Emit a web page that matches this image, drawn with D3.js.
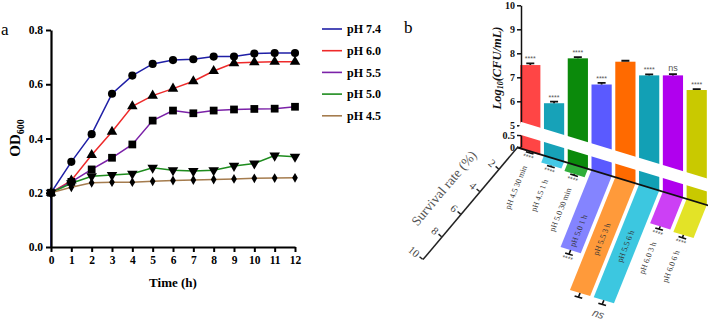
<!DOCTYPE html>
<html>
<head>
<meta charset="utf-8">
<script src="https://cdn.jsdelivr.net/npm/d3@7"></script>
<style>
  body { margin: 0; background: #fff; }
  svg { display: block; }
</style>
</head>
<body>
<svg id="chart" width="708" height="320"></svg>
<script>
// ---- panel a: growth curves ----
const times = [0, 1, 2, 3, 4, 5, 6, 7, 8, 9, 10, 11, 12];
const seriesNames = ["pH 7.4", "pH 6.0", "pH 5.5", "pH 5.0", "pH 4.5"];
const ph74 = [0.200, 0.314, 0.416, 0.565, 0.632, 0.675, 0.689, 0.692, 0.702, 0.702, 0.713, 0.715, 0.715];
const ph60 = [0.200, 0.245, 0.339, 0.425, 0.519, 0.558, 0.584, 0.611, 0.649, 0.678, 0.681, 0.683, 0.683];
const ph55 = [0.200, 0.240, 0.286, 0.329, 0.378, 0.466, 0.503, 0.493, 0.503, 0.507, 0.509, 0.510, 0.517];
const ph50 = [0.200, 0.235, 0.261, 0.265, 0.270, 0.292, 0.283, 0.280, 0.283, 0.299, 0.308, 0.337, 0.333];
const ph45 = [0.200, 0.220, 0.237, 0.239, 0.239, 0.242, 0.245, 0.247, 0.249, 0.251, 0.253, 0.254, 0.255];
const ph74Start = 0;   // blue trace starts from 0 at t = 0
const odTicks = [0, 0.2, 0.4, 0.6, 0.8];

// ---- panel b: log counts (top) and survival rate (bottom) ----
const bCats = ["pH 4.5 30 min", "pH 4.5 1 h", "pH 5.0 30 min", "pH 5.0 1 h",
               "pH 5.5 3 h", "pH 5.5 6 h", "pH 6.0 3 h", "pH 6.0 6 h"];
const logCfu = [7.51, 5.92, 7.79, 6.70, 7.65, 7.08, 7.08, 6.47];
const logCfuErr = [0.07, 0.07, 0.05, 0.07, 0.04, 0.04, 0.05, 0.04];
const logSig = ["****", "****", "****", "****", "", "****", "ns", "****"];
const survival = [0.05, 0.5, 0.6, 5.6, 8.2, 8.2, 2.3, 2.4];
const survivalErr = [0.05, 0.08, 0.08, 0.3, 0.3, 0.3, 0.2, 0.2];
const survSig = ["****", "****", "****", "****", "", "ns", "****", "****"];
const logTicksHi = [5, 6, 7, 8, 9, 10];
const logTicksLo = [0, 0.5];
const survTicks = [2, 4, 6, 8, 10];

const svg = d3.select("#chart");
const serif = '"Liberation Serif", "DejaVu Serif", serif';
const sans = '"Liberation Sans", Arial, sans-serif';

// ===================== panel a =====================
const lineColors = ["#1f1fa6", "#ee2a2a", "#7b22a8", "#1e8c1e", "#a57c4e"];
const symbols = [d3.symbolCircle, d3.symbolTriangle, d3.symbolSquare, d3.symbolTriangle, d3.symbolDiamond];
const symSize = [52, 48, 60, 48, 28];
const allSeries = [ph74, ph60, ph55, ph50, ph45];

const x = d3.scaleLinear().domain([0, 12]).range([51, 295]);
const y = d3.scaleLinear().domain([0, 0.8]).range([247, 30]);

const ga = svg.append("g");

const line = d3.line().x(d => x(d[0])).y(d => y(d[1]));

allSeries.forEach((s, i) => {
  let pts = times.map((t, k) => [t, s[k]]);
  if (i === 0) pts = [[0, ph74Start]].concat(pts);
  ga.append("path")
    .datum(pts)
    .attr("fill", "none")
    .attr("stroke", lineColors[i])
    .attr("stroke-width", 1.5)
    .attr("d", line);
});

allSeries.forEach((s, i) => {
  ga.selectAll(null)
    .data(times.map((t, k) => [t, s[k]]))
    .enter()
    .append("path")
    .attr("d", d3.symbol().type(symbols[i]).size(symSize[i]))
    .attr("transform", d => "translate(" + x(d[0]) + "," + y(d[1]) + ")" + (i === 3 ? " rotate(180)" : ""))
    .attr("fill", "#000");
});

const xAxisA = ga.append("g")
  .attr("transform", "translate(0," + y(0) + ")")
  .call(d3.axisBottom(x).tickValues(times).tickSize(5).tickSizeOuter(0).tickPadding(4));
const yAxisA = ga.append("g")
  .attr("transform", "translate(" + x(0) + ",0)")
  .call(d3.axisLeft(y).tickValues(odTicks).tickFormat(d3.format(".1f")).tickSize(5).tickSizeOuter(0).tickPadding(3));

[xAxisA, yAxisA].forEach(a => {
  a.select(".domain").attr("stroke-width", 2.2).attr("stroke", "#000");
  a.selectAll(".tick line").attr("stroke-width", 2).attr("stroke", "#000");
  a.selectAll(".tick text")
    .attr("font-family", serif).attr("font-weight", "bold")
    .attr("font-size", 11.5).attr("fill", "#000");
});

ga.append("text")
  .attr("x", 173).attr("y", 287)
  .attr("text-anchor", "middle")
  .attr("font-family", serif).attr("font-weight", "bold").attr("font-size", 13)
  .text("Time (h)");

const odLab = ga.append("text")
  .attr("transform", "translate(20,138) rotate(-90)")
  .attr("text-anchor", "middle")
  .attr("font-family", serif).attr("font-weight", "bold").attr("font-size", 15);
odLab.append("tspan").text("OD");
odLab.append("tspan").attr("font-size", 10).attr("dy", 4).text("600");

// legend
const leg = ga.selectAll(".leg")
  .data(seriesNames)
  .enter().append("g")
  .attr("transform", (d, i) => "translate(322," + (29 + i * 21.7) + ")");
leg.append("line")
  .attr("x1", 0).attr("x2", 20)
  .attr("stroke", (d, i) => lineColors[i]).attr("stroke-width", 1.6);
leg.append("text")
  .attr("x", 25).attr("dy", "0.35em")
  .attr("font-family", serif).attr("font-weight", "bold").attr("font-size", 12)
  .text(d => d);

svg.append("text").attr("x", 1).attr("y", 35)
  .attr("font-family", serif).attr("font-size", 17).text("a");

// ===================== panel b =====================
const topColors = ["#ff4545", "#17a2b8", "#0b8a0b", "#5a5aff", "#ff6a00", "#12a0b5", "#b000ee", "#c9c900"];
const lowColors = ["#ff6b6b", "#45c9e6", "#2fae3a", "#8484ff", "#ff9a3a", "#3cc7e0", "#cc40f5", "#e3e327"];

svg.append("text").attr("x", 404).attr("y", 33)
  .attr("font-family", serif).attr("font-size", 17).text("b");

const ox = 519, oy = 148, ang = 16.9;         // origin and tilt of the survival baseline
const stretch = 1 / Math.cos(ang * Math.PI / 180);

const xb = d3.scaleBand().domain(bCats).range([519, 708]).paddingInner(0.15).paddingOuter(0.05);
const yHi = d3.scaleLinear().domain([5, 10]).range([125.3, 5.3]);
const yLo = d3.scaleLinear().domain([0, 0.5]).range([147, 135]);

const xl = d3.scaleBand().domain(bCats).range([0, (708 - 519) * stretch]).paddingInner(0.15).paddingOuter(0.05);
const ly = d3.scaleLinear().domain([0, 10]).range([0, 147.6]);

const defs = svg.append("defs");
defs.append("clipPath").attr("id", "aboveBase")
  .append("rect")
  .attr("transform", "translate(" + ox + "," + oy + ") rotate(" + ang + ")")
  .attr("x", -40).attr("y", -400).attr("width", 320).attr("height", 400);

// top bars (vertical), clipped at the tilted baseline
const gb = svg.append("g");
gb.append("g").attr("clip-path", "url(#aboveBase)")
  .selectAll("rect")
  .data(bCats)
  .enter().append("rect")
  .attr("x", d => xb(d))
  .attr("y", (d, i) => yHi(logCfu[i]))
  .attr("width", xb.bandwidth())
  .attr("height", (d, i) => 320 - yHi(logCfu[i]))
  .attr("fill", (d, i) => topColors[i]);

// white break band
const rot = gb.append("g").attr("transform", "translate(" + ox + "," + oy + ") rotate(" + ang + ")");
rot.append("rect")
  .attr("x", -6).attr("y", -25.5).attr("width", 215).attr("height", 12.5)
  .attr("fill", "#fff");

// top error bars and stars
const cx = d => xb(d) + xb.bandwidth() / 2;
gb.selectAll(".errTop")
  .data(bCats).enter().append("path")
  .attr("d", (d, i) => {
    const y0 = yHi(logCfu[i]), y1 = yHi(logCfu[i] + logCfuErr[i]);
    return "M" + cx(d) + "," + y0 + "V" + y1 + "M" + (cx(d) - 4) + "," + y1 + "H" + (cx(d) + 4);
  })
  .attr("stroke", "#111").attr("stroke-width", 1.8).attr("fill", "none");
gb.selectAll(".sigTop")
  .data(bCats).enter().append("text")
  .attr("x", cx)
  .attr("y", (d, i) => yHi(logCfu[i] + logCfuErr[i]) - (logSig[i] === "ns" ? 3 : 2))
  .attr("text-anchor", "middle")
  .attr("font-family", sans)
  .attr("font-size", (d, i) => logSig[i] === "ns" ? 9 : 7)
  .attr("fill", "#555")
  .text((d, i) => logSig[i]);

// top axes (split)
const axHi = gb.append("g").attr("transform", "translate(521,0)")
  .call(d3.axisLeft(yHi).tickValues(logTicksHi).tickFormat(d3.format("d")).tickSize(4).tickSizeOuter(0).tickPadding(2));
const axLo = gb.append("g").attr("transform", "translate(521,0)")
  .call(d3.axisLeft(yLo).tickValues(logTicksLo).tickFormat(d => d === 0 ? "0" : "0.5").tickSize(4).tickSizeOuter(0).tickPadding(2));
[axHi, axLo].forEach(a => {
  a.select(".domain").attr("stroke", "#111").attr("stroke-width", 1.5);
  a.selectAll(".tick line").attr("stroke", "#111").attr("stroke-width", 1.5);
  a.selectAll(".tick text")
    .attr("font-family", serif).attr("font-weight", "bold")
    .attr("font-size", 10).attr("fill", "#111");
});

const logLab = gb.append("text")
  .attr("transform", "translate(501,68) rotate(-90)")
  .attr("text-anchor", "middle")
  .attr("font-family", serif).attr("font-weight", "bold").attr("font-style", "italic")
  .attr("font-size", 12.5).attr("fill", "#111");
logLab.append("tspan").text("Log");
logLab.append("tspan").attr("font-size", 8).attr("dy", 2).text("10");
logLab.append("tspan").attr("dy", -2).text("(CFU/mL)");

// lower survival chart (tilted, bars hang down)
const skew = gb.append("g")
  .attr("transform", "translate(" + ox + "," + oy + ") rotate(" + ang + ") skewX(-5)");
const lcx = d => xl(d) + xl.bandwidth() / 2;

skew.selectAll(".lowBar")
  .data(bCats).enter().append("rect")
  .attr("x", d => xl(d))
  .attr("y", 0)
  .attr("width", xl.bandwidth())
  .attr("height", (d, i) => ly(survival[i]))
  .attr("fill", (d, i) => lowColors[i]);

skew.selectAll(".errLow")
  .data(bCats).enter().append("path")
  .attr("d", (d, i) => {
    const y0 = ly(survival[i]), y1 = ly(survival[i] + survivalErr[i]);
    return "M" + lcx(d) + "," + y0 + "V" + y1 + "M" + (lcx(d) - 4) + "," + y1 + "H" + (lcx(d) + 4);
  })
  .attr("stroke", "#111").attr("stroke-width", 1.6).attr("fill", "none");

skew.selectAll(".sigLow")
  .data(bCats).enter().append("text")
  .attr("x", lcx)
  .attr("y", (d, i) => ly(survival[i] + survivalErr[i]) + (survSig[i] === "ns" ? 14 : 7))
  .attr("text-anchor", "middle")
  .attr("font-family", sans)
  .attr("font-style", (d, i) => survSig[i] === "ns" ? "italic" : "normal")
  .attr("font-size", (d, i) => survSig[i] === "ns" ? 11 : 7)
  .attr("fill", "#555")
  .text((d, i) => survSig[i]);

skew.selectAll(".catLab")
  .data(bCats).enter().append("text")
  .attr("transform", (d, i) => {
    const inside = survival[i] > 5;
    const yy = inside ? Math.min(ly(survival[i]) - 4, 80) : ly(survival[i] + survivalErr[i]) + 14;
    return "translate(" + lcx(d) + "," + yy + ") rotate(-90)";
  })
  .attr("text-anchor", (d, i) => survival[i] > 5 ? "start" : "end")
  .attr("dy", "0.35em")
  .attr("font-family", serif).attr("font-size", 8)
  .attr("fill", "#333")
  .text(d => d);

// baseline
rot.raise();
rot.append("line")
  .attr("x1", -2).attr("x2", 205).attr("y1", 0).attr("y2", 0)
  .attr("stroke", "#111").attr("stroke-width", 1.8);

// survival axis, tilted down-left
const gs = gb.append("g").attr("transform", "translate(518,146) rotate(40.1)");
const axS = gs.call(d3.axisLeft(ly).tickValues(survTicks).tickSize(4).tickSizeOuter(0).tickPadding(2));
axS.select(".domain").attr("stroke", "#222").attr("stroke-width", 1.5);
axS.selectAll(".tick line").attr("stroke", "#222").attr("stroke-width", 1.5);
axS.selectAll(".tick text")
  .attr("font-family", serif).attr("font-size", 11).attr("fill", "#444");
gs.append("text")
  .attr("transform", "translate(-25,80) rotate(-90)")
  .attr("text-anchor", "middle")
  .attr("font-family", serif).attr("font-size", 13.5)
  .attr("fill", "#555")
  .text("Survival rate (%)");
</script>
</body>
</html>
